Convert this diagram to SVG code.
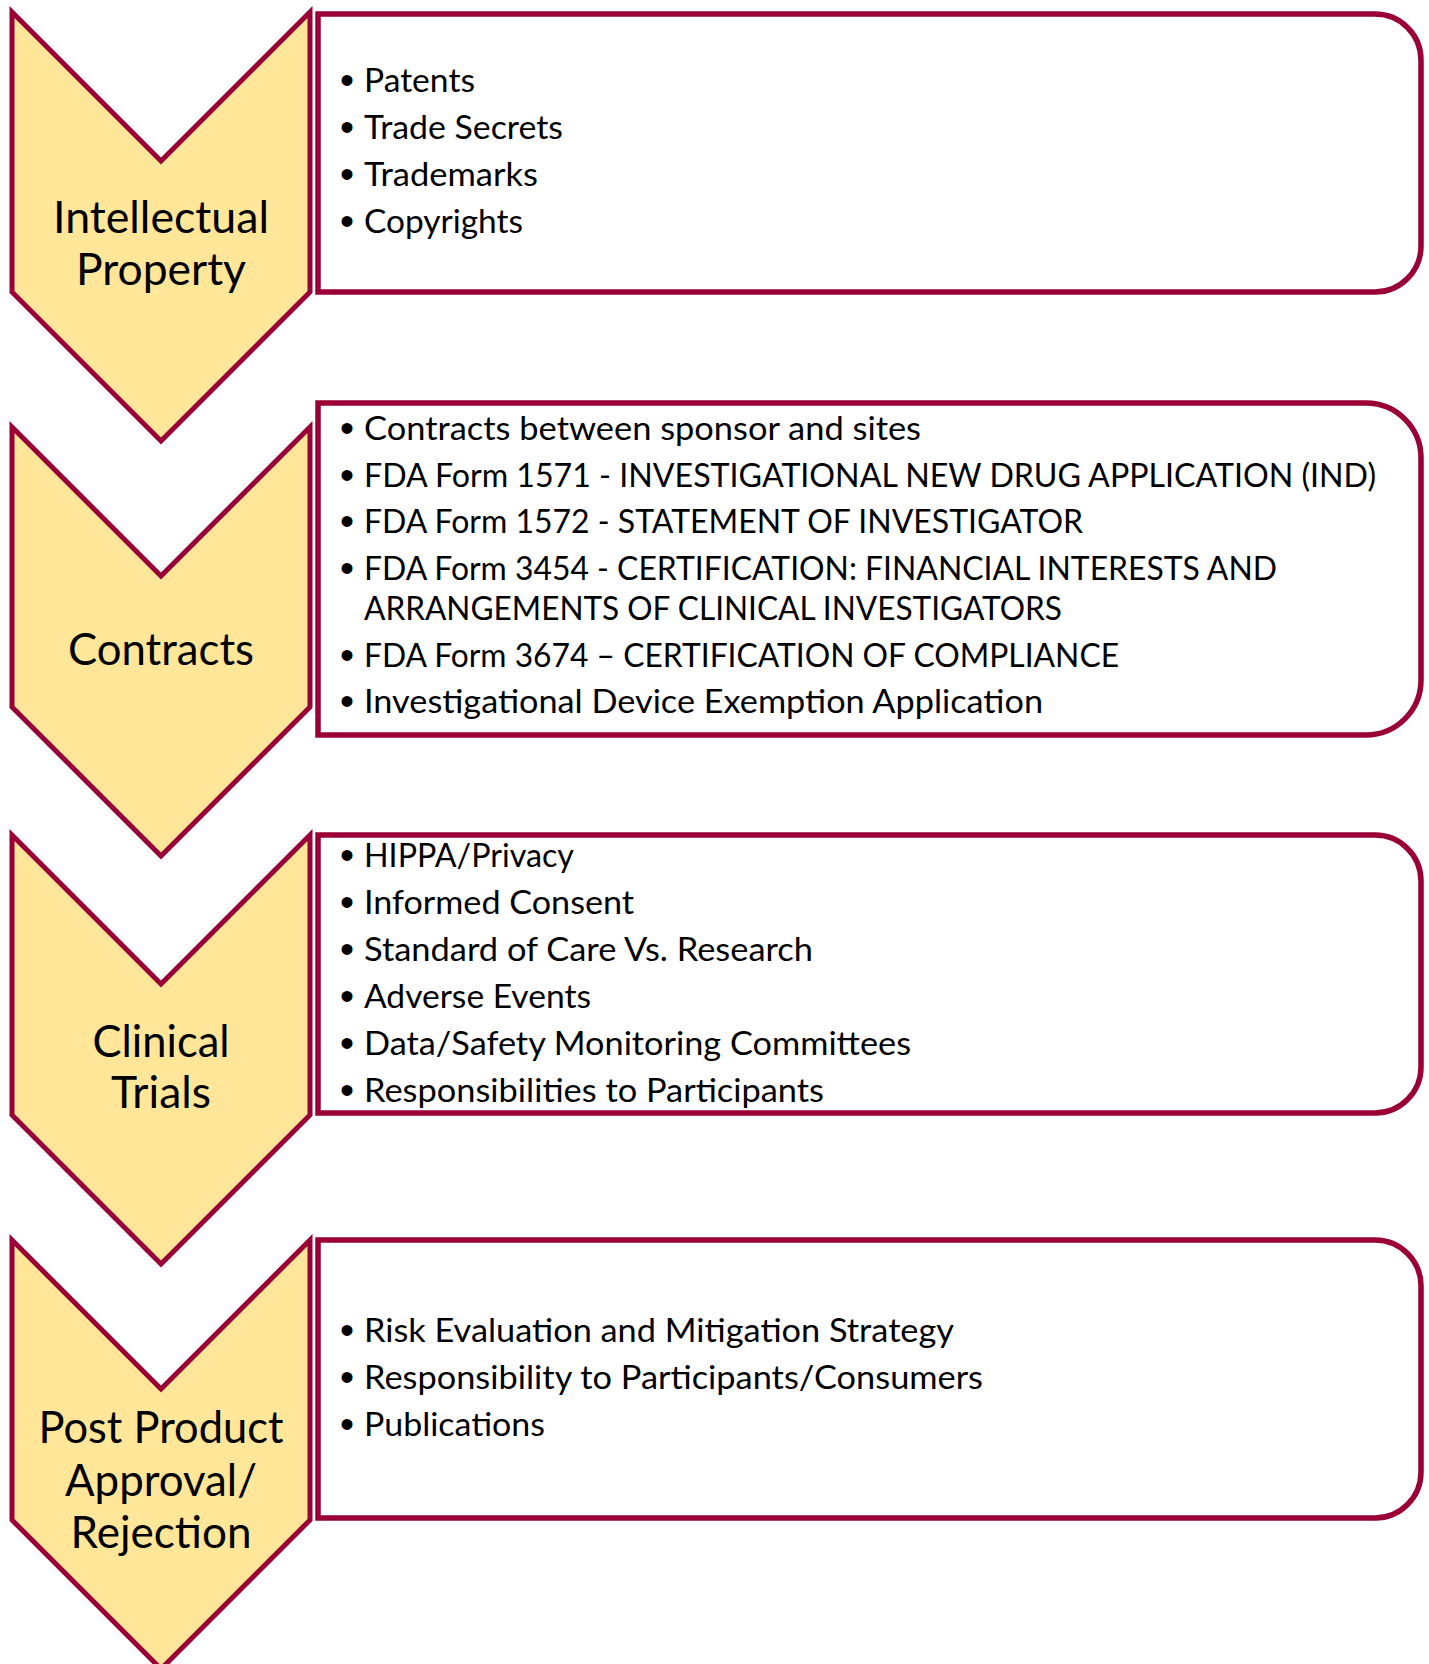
<svg xmlns="http://www.w3.org/2000/svg" width="1429" height="1664" viewBox="0 0 1429 1664">
<style>
.chev{fill:#FFE699;stroke:#9A0036;stroke-width:5;stroke-linejoin:miter}
.box{fill:#FFFFFF;stroke:#9A0036;stroke-width:5.5}
.lab{font-family:Lato,"Liberation Sans",sans-serif;font-size:45px;fill:#000;text-anchor:middle}
.item{font-family:Lato,"Liberation Sans",sans-serif;font-size:33px;fill:#000}
.bul{font-family:"Liberation Sans",Arial,sans-serif;font-size:40px;fill:#000}
</style>
<rect width="1429" height="1664" fill="#FFFFFF"/>
<g id="connectors"></g>

<g id="chevron-ip">
<polygon class="chev" points="12,12 161,161 310,12 310,292 161,441 12,292"/>
<text class="lab" x="161" y="233" textLength="216" lengthAdjust="spacingAndGlyphs">Intellectual</text>
<text class="lab" x="161" y="285" textLength="170" lengthAdjust="spacingAndGlyphs">Property</text>
</g>
<g id="box-ip">
<path class="box" d="M318,14 H1375 A46,46 0 0 1 1421,60 V246 A46,46 0 0 1 1375,292 H318 Z"/>
<text class="bul" x="340" y="94">•</text><text class="item" x="364" y="92" textLength="111" lengthAdjust="spacingAndGlyphs">Patents</text>
<text class="bul" x="340" y="141">•</text><text class="item" x="364" y="139" textLength="199" lengthAdjust="spacingAndGlyphs">Trade Secrets</text>
<text class="bul" x="340" y="188">•</text><text class="item" x="364" y="186" textLength="174" lengthAdjust="spacingAndGlyphs">Trademarks</text>
<text class="bul" x="340" y="235">•</text><text class="item" x="364" y="233" textLength="159" lengthAdjust="spacingAndGlyphs">Copyrights</text>
</g>

<g id="chevron-contracts">
<polygon class="chev" points="12,427 161,576 310,427 310,707 161,856 12,707"/>
<text class="lab" x="161" y="665" textLength="186" lengthAdjust="spacingAndGlyphs">Contracts</text>
</g>
<g id="box-contracts">
<path class="box" d="M318,403 H1366 A55,55 0 0 1 1421,458 V680 A55,55 0 0 1 1366,735 H318 Z"/>
<text class="bul" x="340" y="442">•</text><text class="item" x="364" y="440" textLength="557" lengthAdjust="spacingAndGlyphs">Contracts between sponsor and sites</text>
<text class="bul" x="340" y="489">•</text><text class="item" x="364" y="487" textLength="1012" lengthAdjust="spacingAndGlyphs">FDA Form 1571 - INVESTIGATIONAL NEW DRUG APPLICATION (IND)</text>
<text class="bul" x="340" y="535">•</text><text class="item" x="364" y="533" textLength="719" lengthAdjust="spacingAndGlyphs">FDA Form 1572 - STATEMENT OF INVESTIGATOR</text>
<text class="bul" x="340" y="582">•</text><text class="item" x="364" y="580" textLength="913" lengthAdjust="spacingAndGlyphs">FDA Form 3454 - CERTIFICATION: FINANCIAL INTERESTS AND</text>
<text class="item" x="364" y="620" textLength="698" lengthAdjust="spacingAndGlyphs">ARRANGEMENTS OF CLINICAL INVESTIGATORS</text>
<text class="bul" x="340" y="669">•</text><text class="item" x="364" y="667" textLength="755" lengthAdjust="spacingAndGlyphs">FDA Form 3674 – CERTIFICATION OF COMPLIANCE</text>
<text class="bul" x="340" y="715">•</text><text class="item" x="364" y="713" textLength="679" lengthAdjust="spacingAndGlyphs">Investigational Device Exemption Application</text>
</g>

<g id="chevron-clinical">
<polygon class="chev" points="12,835 161,984 310,835 310,1115 161,1264 12,1115"/>
<text class="lab" x="161" y="1057" textLength="137" lengthAdjust="spacingAndGlyphs">Clinical</text>
<text class="lab" x="161" y="1108" textLength="100" lengthAdjust="spacingAndGlyphs">Trials</text>
</g>
<g id="box-clinical">
<path class="box" d="M318,835 H1375 A46,46 0 0 1 1421,881 V1067 A46,46 0 0 1 1375,1113 H318 Z"/>
<text class="bul" x="340" y="869">•</text><text class="item" x="364" y="867" textLength="210" lengthAdjust="spacingAndGlyphs">HIPPA/Privacy</text>
<text class="bul" x="340" y="916">•</text><text class="item" x="364" y="914" textLength="270" lengthAdjust="spacingAndGlyphs">Informed Consent</text>
<text class="bul" x="340" y="963">•</text><text class="item" x="364" y="961" textLength="449" lengthAdjust="spacingAndGlyphs">Standard of Care Vs. Research</text>
<text class="bul" x="340" y="1010">•</text><text class="item" x="364" y="1008" textLength="227" lengthAdjust="spacingAndGlyphs">Adverse Events</text>
<text class="bul" x="340" y="1057">•</text><text class="item" x="364" y="1055" textLength="547" lengthAdjust="spacingAndGlyphs">Data/Safety Monitoring Committees</text>
<text class="bul" x="340" y="1104">•</text><text class="item" x="364" y="1102" textLength="460" lengthAdjust="spacingAndGlyphs">Responsibilities to Participants</text>
</g>

<g id="chevron-post">
<polygon class="chev" points="12,1240 161,1389 310,1240 310,1520 161,1669 12,1520"/>
<text class="lab" x="161" y="1443" textLength="245" lengthAdjust="spacingAndGlyphs">Post Product</text>
<text class="lab" x="161" y="1496" textLength="192" lengthAdjust="spacingAndGlyphs">Approval/</text>
<text class="lab" x="161" y="1548" textLength="181" lengthAdjust="spacingAndGlyphs">Rejection</text>
</g>
<g id="box-post">
<path class="box" d="M318,1240 H1375 A46,46 0 0 1 1421,1286 V1472 A46,46 0 0 1 1375,1518 H318 Z"/>
<text class="bul" x="340" y="1344">•</text><text class="item" x="364" y="1342" textLength="590" lengthAdjust="spacingAndGlyphs">Risk Evaluation and Mitigation Strategy</text>
<text class="bul" x="340" y="1391">•</text><text class="item" x="364" y="1389" textLength="619" lengthAdjust="spacingAndGlyphs">Responsibility to Participants/Consumers</text>
<text class="bul" x="340" y="1438">•</text><text class="item" x="364" y="1436" textLength="181" lengthAdjust="spacingAndGlyphs">Publications</text>
</g>
</svg>
